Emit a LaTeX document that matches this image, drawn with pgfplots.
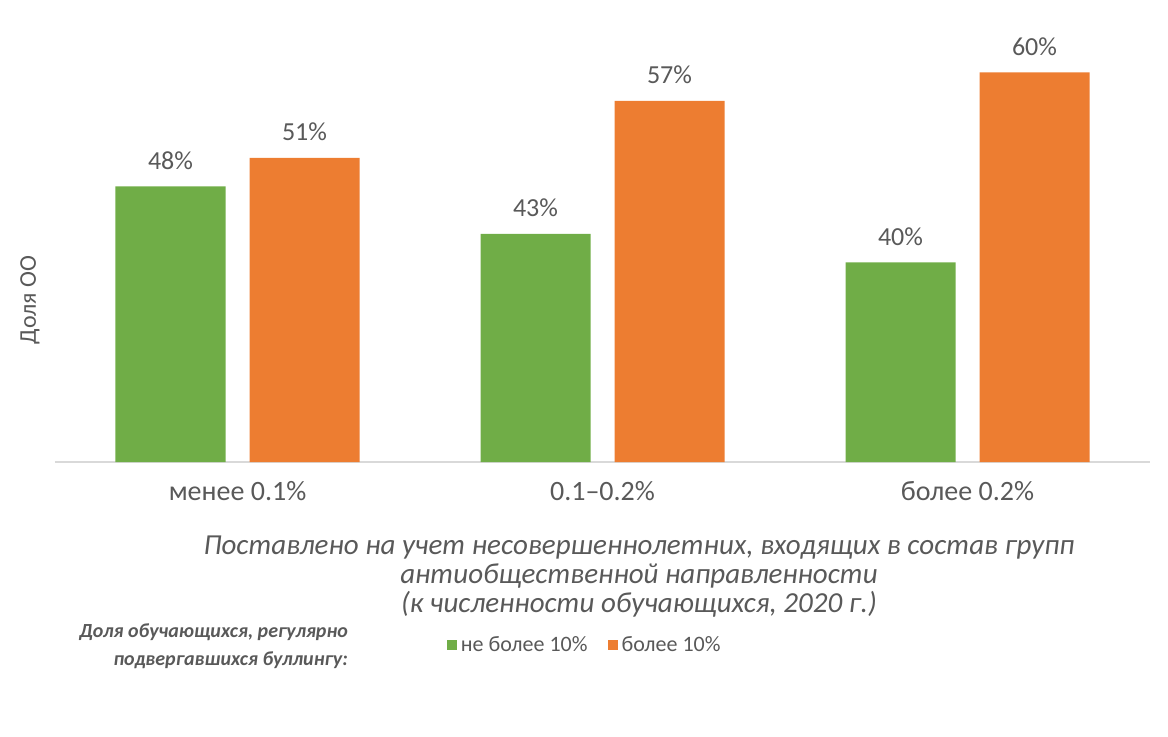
\documentclass[border=0pt]{standalone}
\usepackage{pgfplots}
\pgfplotsset{compat=1.18}
\usepackage{fontspec}
\setmainfont{Carlito}
\definecolor{cgreen}{HTML}{70AD47}
\definecolor{corange}{HTML}{ED7D31}
\definecolor{ctext}{HTML}{595959}
\begin{document}
\begin{tikzpicture}
\useasboundingbox (-27.5pt,-137pt) rectangle (556.5pt,231pt);
\begin{axis}[
    at={(0,0)}, anchor=south west,
    scale only axis,
    width=547.5pt, height=211pt,
    ybar=12pt,
    bar width=55pt,
    ymin=19, ymax=63.4,
    xmin=-0.5, xmax=2.5,
    xtick=data,
    xticklabels={менее 0.1\%, 0.1–0.2\%, более 0.2\%},
    axis x line*=bottom,
    axis y line=none,
    x axis line style={draw=black!15, line width=1pt},
    major tick length=0pt,
    /pgf/number format/assume math mode=true,
    xticklabel style={font=\fontsize{14}{16}\selectfont, text=ctext, yshift=-6pt},
    nodes near coords={\pgfmathprintnumber{\pgfplotspointmeta}\%},
    nodes near coords style={font=\fontsize{13}{15}\selectfont, text=ctext, yshift=5pt},
    legend style={at={(0.352,-0.434)}, anchor=west, draw=none, fill=none,
        font=\fontsize{11}{13}\selectfont, text=ctext, legend columns=2,
        /tikz/every even column/.append style={column sep=8pt}},
    legend image code/.code={\fill[#1] (0pt,-2.5pt) rectangle (5pt,2.5pt);},
    clip=false,
]
\addplot[fill=cgreen, draw=none] coordinates {(0,48) (1,43) (2,40)};
\addplot[fill=corange, draw=none] coordinates {(0,51) (1,57) (2,60)};
\legend{не более 10\%, более 10\%}
\end{axis}
\node[rotate=90, text=ctext, font=\fontsize{12}{14}\selectfont] at (-12.5pt,81pt) {Доля ОО};
\node[text=ctext, font=\fontsize{14.5}{14.5}\itshape, align=center] at (292pt,-57.5pt)
  {Поставлено на учет несовершеннолетних, входящих в состав групп\\
   антиобщественной направленности\\
   (к численности обучающихся, 2020 г.)};
\node[text=ctext, font=\fontsize{10}{14}\bfseries\itshape, align=right, anchor=east] at (150pt,-92pt)
  {Доля обучающихся, регулярно\\подвергавшихся буллингу:};
\end{tikzpicture}
\end{document}
